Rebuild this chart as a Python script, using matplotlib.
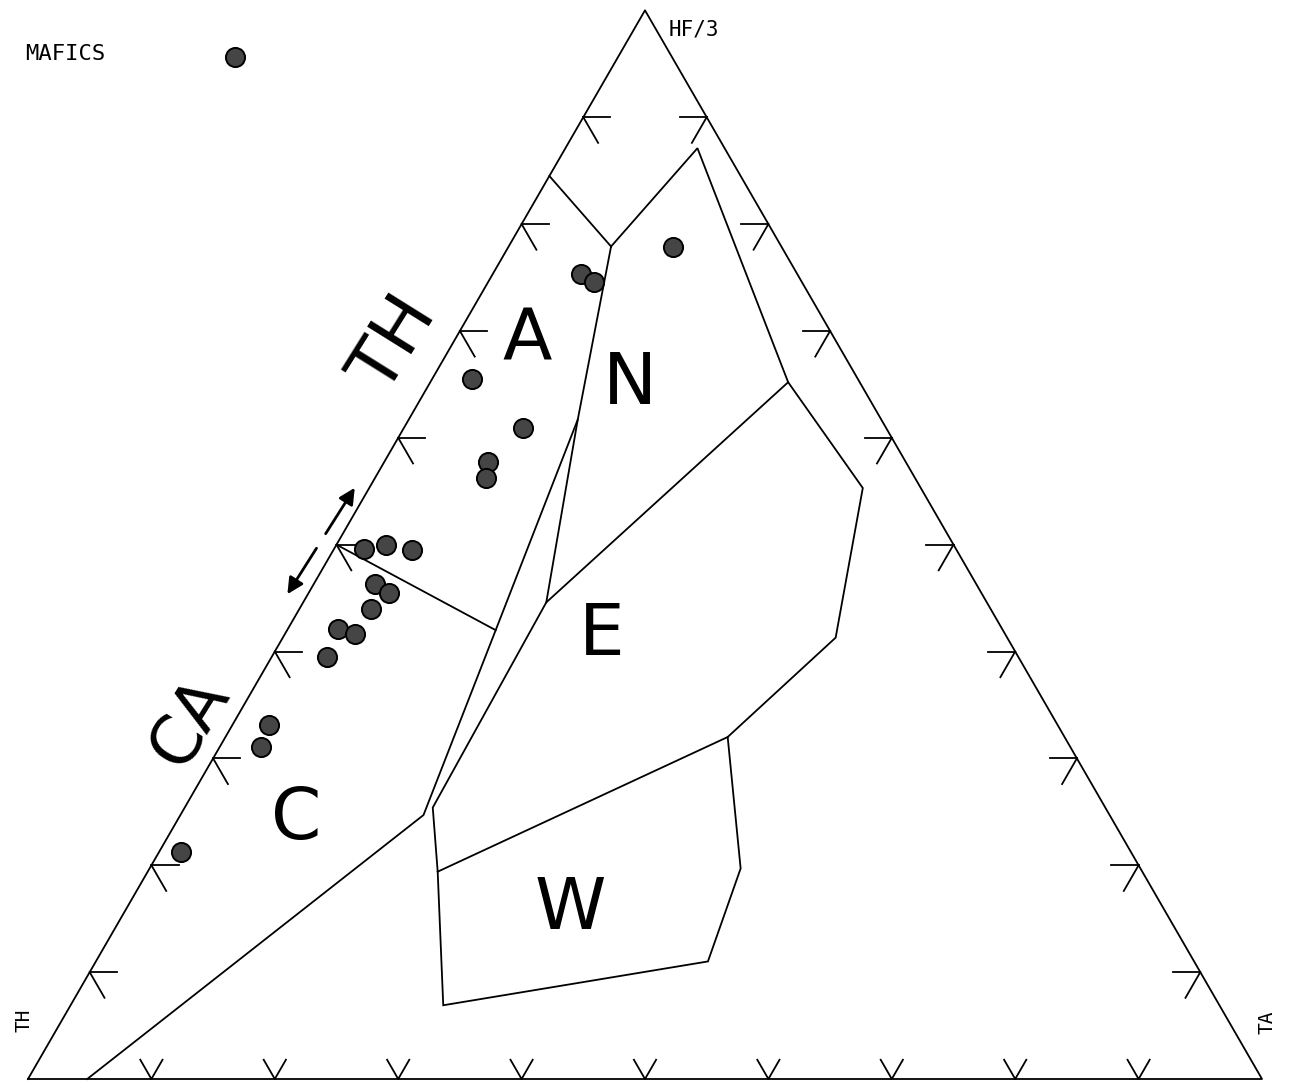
import math
import matplotlib
matplotlib.use("Agg")
import matplotlib.pyplot as plt

# ternary compositions in percent (Th, Hf/3, Ta)
mafic_th = [8.8, 17.5, 16.8, 31.3, 29.4, 33.9, 34.8, 48.0, 46.0, 44.1,
            48.7, 48.0, 50.2, 53.8, 52.7, 56.0, 63.9, 65.6, 77.0]
mafic_hf = [77.9, 75.3, 74.6, 65.5, 60.9, 57.7, 56.2, 49.6, 50.0, 49.5,
            46.3, 45.5, 44.0, 42.1, 41.6, 39.5, 33.1, 31.1, 21.2]
mafic_ta = [13.3, 7.2, 8.6, 3.2, 9.7, 8.4, 9.0, 2.4, 4.0, 6.4,
            5.0, 6.5, 5.8, 4.1, 5.7, 4.5, 3.0, 3.3, 1.8]

# field boundaries, (Hf/3, Ta) in percent, Th is the rest
outline_hf = [84.5, 77.9, 87.1, 65.2, 55.3, 41.3, 32.0, 19.7, 11.0, 6.9,
              19.4, 25.4, 44.6, 61.7, 77.9]
outline_ta = [0.0, 8.3, 10.7, 29.0, 40.0, 44.8, 40.7, 47.9, 49.6, 30.2,
              23.5, 20.1, 19.7, 13.7, 8.3]
calc_hf = [61.7, 42.0, 24.7, 0.0]
calc_ta = [13.7, 16.9, 19.7, 4.8]
ca_th_hf = [50.0, 42.0]
ca_th_ta = [0.0, 16.9]
n_e_hf = [44.6, 65.2]
n_e_ta = [19.7, 29.0]
e_w_hf = [19.4, 32.0]
e_w_ta = [23.5, 40.7]

tick_fracs = [0.1, 0.2, 0.3, 0.4, 0.5, 0.6, 0.7, 0.8, 0.9]

S3 = math.sqrt(3) / 2


def to_xy(hf, ta):
    hf = hf / 100.0
    ta = ta / 100.0
    return ta + hf / 2, hf * S3


def line_xy(hfs, tas):
    xs, ys = [], []
    for h, t in zip(hfs, tas):
        x, y = to_xy(h, t)
        xs.append(x)
        ys.append(y)
    return xs, ys


fig = plt.figure(figsize=(12.9, 10.88), dpi=100)
ax = fig.add_axes([0, 0, 1, 1])
ax.set_xlim(-28 / 1234, 1262 / 1234)
ax.set_ylim(-9 / 1234, 1079 / 1234)
ax.axis("off")

lw = 1.3
# triangle
ax.plot([0, 1, 0.5, 0], [0, 0, S3, 0], color="black", lw=lw)

# ticks
th_len = 0.022
td_len = 0.024
tb_len = 0.018
for f in tick_fracs:
    # left edge (Ta = 0)
    x0, y0 = f / 2, f * S3
    ax.plot([x0, x0 + th_len], [y0, y0], color="black", lw=lw)
    ax.plot([x0, x0 + 0.5 * td_len], [y0, y0 - S3 * td_len], color="black", lw=lw)
    # right edge (Th = 0)
    x0, y0 = 1 - f / 2, f * S3
    ax.plot([x0, x0 - th_len], [y0, y0], color="black", lw=lw)
    ax.plot([x0, x0 - 0.5 * td_len], [y0, y0 - S3 * td_len], color="black", lw=lw)
    # base (Hf = 0)
    x0 = f
    ax.plot([x0 - 0.5 * tb_len, x0, x0 + 0.5 * tb_len], [S3 * tb_len, 0, S3 * tb_len],
            color="black", lw=lw)

# field boundaries
for hfs, tas in [(outline_hf, outline_ta), (calc_hf, calc_ta), (ca_th_hf, ca_th_ta),
                 (n_e_hf, n_e_ta), (e_w_hf, e_w_ta)]:
    xs, ys = line_xy(hfs, tas)
    ax.plot(xs, ys, color="black", lw=lw, solid_joinstyle="miter")

# samples
mx, my = line_xy(mafic_hf, mafic_ta)
ax.scatter(mx, my, s=190, facecolor="#454545", edgecolor="black", linewidth=1.4, zorder=5)

# legend
ax.text(25 / 1290, 1 - 54 / 1088, "MAFICS", transform=ax.transAxes,
        family="DejaVu Sans Mono", fontsize=16, va="center", ha="left")
ax.scatter([235 / 1290], [1 - 57 / 1088], s=190, facecolor="#454545",
           edgecolor="black", linewidth=1.4, transform=ax.transAxes, zorder=5)

# vertex labels
ax.text(0.519, 0.846, "HF/3", family="DejaVu Sans Mono", fontsize=15, va="baseline")
ax.text(-0.003, 0.048, "TH", family="DejaVu Sans Mono", fontsize=14,
        rotation=90, ha="center", va="center")
ax.text(1.004, 0.046, "TA", family="DejaVu Sans Mono", fontsize=14,
        rotation=90, ha="center", va="center")

# field labels
big = dict(family="DejaVu Sans", fontsize=52, ha="center", va="center")
ax.text(0.4044, 0.599, "A", **big)
ax.text(0.4878, 0.5624, "N", **big)
ax.text(0.4652, 0.359, "E", **big)
ax.text(0.2172, 0.2099, "C", **big)
ax.text(0.4392, 0.137, "W", **big)
ax.text(0.297, 0.595, "TH", rotation=58, **big)
ax.text(0.1313, 0.2893, "CA", rotation=58, fontsize=48, family="DejaVu Sans",
        ha="center", va="center")

# trend arrows along the CA-TH boundary
arrow = dict(arrowstyle="-|>", color="black", lw=2, mutation_scale=24)
ax.annotate("", xy=(0.2660, 0.4810), xytext=(0.2400, 0.4400), arrowprops=arrow)
ax.annotate("", xy=(0.2090, 0.3910), xytext=(0.2350, 0.4320), arrowprops=arrow)

fig.savefig("out.png", dpi=100)
